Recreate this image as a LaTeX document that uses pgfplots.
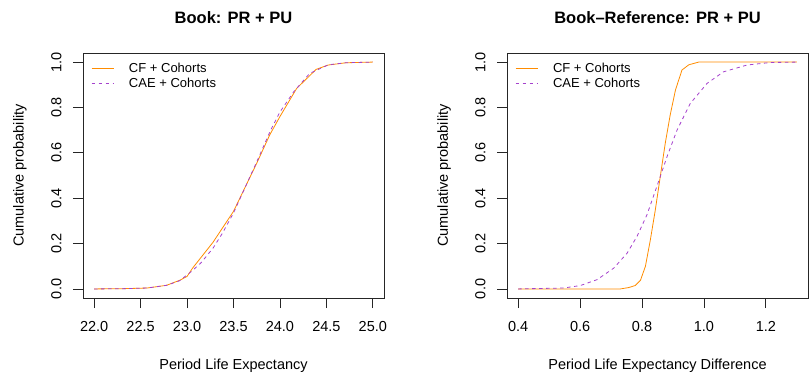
\documentclass[border=0pt]{standalone}
\usepackage{pgfplots}
\pgfplotsset{compat=1.18}
\usepackage{fontspec}
\setmainfont{Liberation Sans}
\definecolor{cf}{RGB}{255,140,0}
\definecolor{cae}{RGB}{165,65,205}
\pgfplotsset{rstyle/.style={
  scale only axis, width=301pt, height=245pt,
  axis line style={line width=0.8pt, black!85},
  tick align=outside, xtick pos=bottom, ytick pos=left,
  major tick length=10pt, tick style={line width=0.8pt, black!85},
  ymin=-0.04, ymax=1.04, ytick={0,0.2,0.4,0.6,0.8,1.0},
  tick label style={font=\fontsize{14.5}{16}\selectfont},
  /pgf/number format/assume math mode=true,
  /pgf/number format/fixed, /pgf/number format/fixed zerofill, /pgf/number format/precision=1,
  xticklabel style={yshift=-10pt},
  yticklabel style={xshift=-8pt, rotate=90, anchor=south},
  label style={font=\fontsize{14.5}{16}\selectfont},
  xlabel style={at={(axis description cs:0.5,-0.2776)}, anchor=center},
  ylabel style={at={(axis description cs:-0.2093,0.5)}, anchor=center},
  title style={at={(axis description cs:0.5,1.12)}, anchor=center, font=\bfseries\fontsize{16.5}{18}\selectfont},
  ylabel={Cumulative probability},
  legend style={draw=none, fill=none, at={(axis description cs:0,1)}, anchor=north west, xshift=5pt, yshift=-6pt, font=\fontsize{13}{15}\selectfont, cells={anchor=west}},
  legend image code/.code={\draw[#1] (0pt,0pt) -- (22pt,0pt); \path (35pt,0pt);},
  every axis plot/.append style={line width=0.8pt},
}}
\begin{document}
\begin{tikzpicture}
\path[use as bounding box] (0,0) rectangle (809pt,376pt);
\begin{axis}[rstyle, at={(83pt,78pt)}, anchor=south west,
  xmin=21.88, xmax=25.12, xtick={22,22.5,23,23.5,24,24.5,25},
  title={Book: PR + PU}, xlabel={Period Life Expectancy}]
\addplot[cf] coordinates {(22.0,0) (22.3,0.001) (22.57,0.004) (22.78,0.016) (22.92,0.038) (23.0,0.055) (23.06,0.092) (23.28,0.206) (23.50,0.342) (23.75,0.554) (23.89,0.679) (24.00,0.76) (24.18,0.884) (24.39,0.968) (24.52,0.987) (24.71,0.997) (25.0,1.0)};
\addlegendentry{CF + Cohorts}
\addplot[cae, dash pattern=on 3.5pt off 3.5pt] coordinates {(22.0,0) (22.3,0.001) (22.57,0.004) (22.78,0.016) (22.92,0.036) (23.05,0.078) (23.15,0.115) (23.28,0.18) (23.38,0.245) (23.50,0.335) (23.75,0.56) (23.90,0.70) (24.00,0.78) (24.15,0.87) (24.32,0.95) (24.52,0.988) (24.71,0.997) (25.0,1.0)};
\addlegendentry{CAE + Cohorts}
\end{axis}
\begin{axis}[rstyle, at={(507pt,78pt)}, anchor=south west,
  xmin=0.364, xmax=1.336, xtick={0.4,0.6,0.8,1.0,1.2},
  title={Book–Reference: PR + PU}, xlabel={Period Life Expectancy Difference}]
\addplot[cf] coordinates {(0.4,0) (0.73,0) (0.757,0.006) (0.778,0.015) (0.795,0.038) (0.811,0.10) (0.827,0.217) (0.843,0.349) (0.859,0.496) (0.875,0.642) (0.891,0.767) (0.908,0.877) (0.929,0.965) (0.951,0.988) (0.983,1.0) (1.3,1.0)};
\addlegendentry{CF + Cohorts}
\addplot[cae, dash pattern=on 3.5pt off 3.5pt] coordinates {(0.4,0) (0.547,0.004) (0.601,0.015) (0.655,0.041) (0.709,0.092) (0.752,0.158) (0.784,0.232) (0.816,0.327) (0.848,0.452) (0.881,0.584) (0.913,0.70) (0.956,0.818) (1.01,0.906) (1.063,0.957) (1.139,0.987) (1.214,0.998) (1.3,1.0)};
\addlegendentry{CAE + Cohorts}
\end{axis}
\end{tikzpicture}
\end{document}
